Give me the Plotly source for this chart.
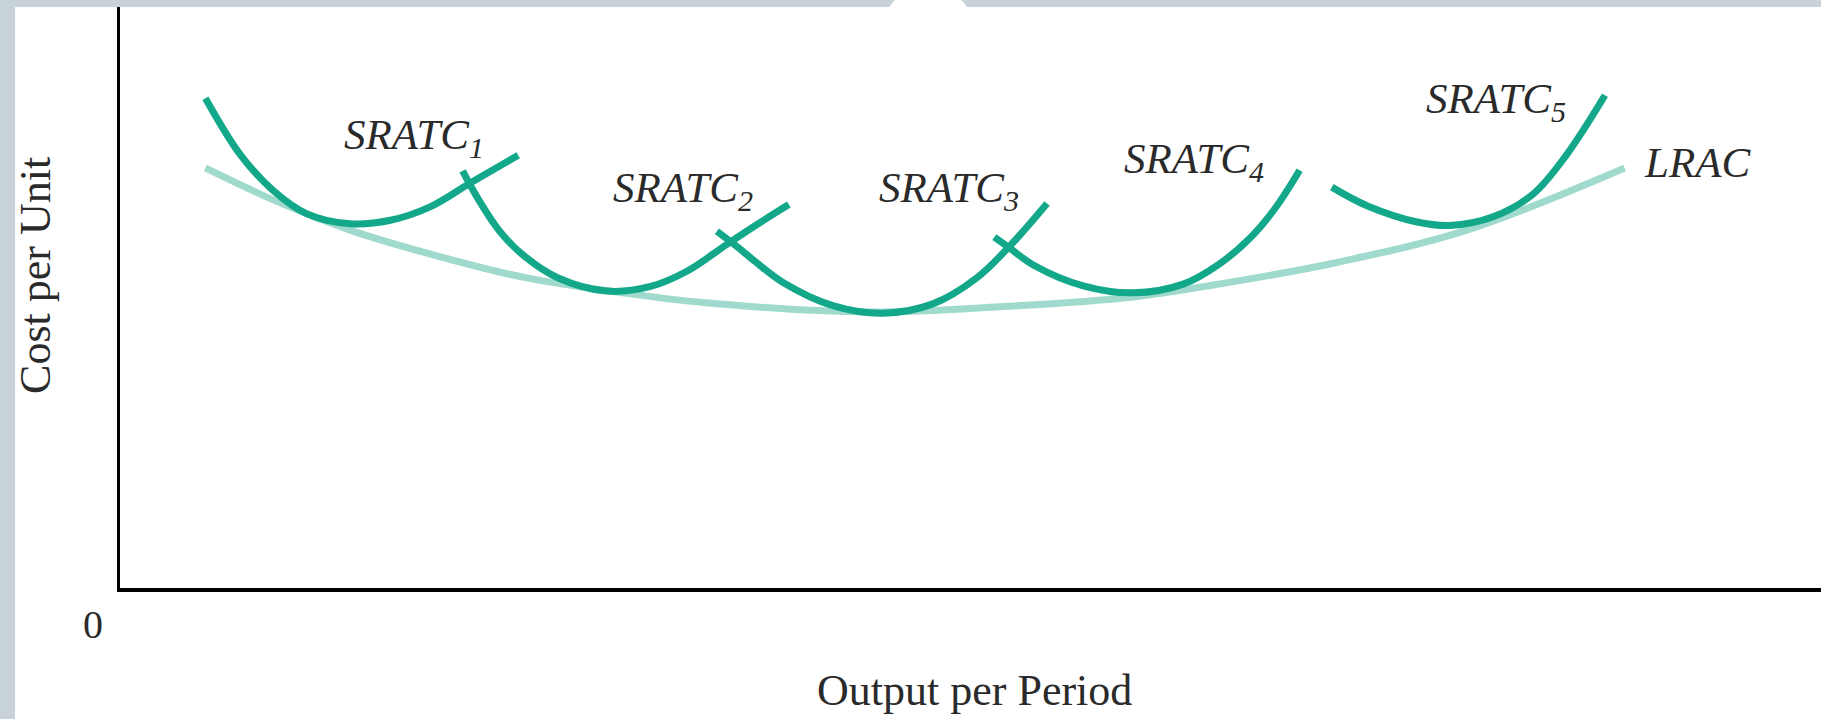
import plotly.graph_objects as go

# curve points (output on x, cost per unit on y, both on a 0-100 scale)
sratc1_x = [5.02, 7.07, 9.01, 10.99, 13.52, 15.90, 18.23, 20.59, 23.41]
sratc1_y = [84.3, 74.6, 68.4, 64.4, 62.7, 63.3, 65.6, 69.7, 74.5]

sratc2_x = [20.14, 21.09, 22.32, 23.82, 25.73, 28.60, 31.19, 33.38, 35.70, 37.68, 39.32]
sratc2_y = [71.8, 66.8, 61.4, 57.0, 53.4, 51.1, 51.9, 54.6, 59.2, 63.0, 66.0]

sratc3_x = [35.09, 36.25, 37.34, 38.98, 41.91, 44.85, 47.78, 50.38, 52.29, 54.50]
sratc3_y = [61.4, 58.8, 56.2, 52.6, 48.6, 47.3, 48.9, 53.4, 58.8, 66.2]

sratc4_x = [51.40, 52.35, 53.69, 56.63, 59.56, 62.50, 64.64, 66.42, 67.92, 69.35]
sratc4_y = [60.4, 58.4, 55.6, 52.0, 50.8, 52.3, 55.8, 60.2, 65.4, 71.9]

sratc5_x = [71.24, 73.31, 76.25, 78.19, 80.72, 83.07, 85.05, 87.30]
sratc5_y = [69.0, 65.8, 63.0, 62.4, 63.9, 67.8, 74.6, 84.8]

lrac_x = [5.02, 9.01, 13.52, 18.84, 23.69, 29.56, 34.40, 43.92, 51.74, 59.56, 63.96, 71.33, 79.18, 88.46]
lrac_y = [72.3, 66.8, 61.6, 57.0, 53.5, 50.8, 49.1, 47.5, 48.4, 50.1, 52.0, 55.9, 61.6, 72.3]

labels = ["SRATC<sub>1</sub>", "SRATC<sub>2</sub>", "SRATC<sub>3</sub>", "SRATC<sub>4</sub>", "SRATC<sub>5</sub>"]
label_x = [17.30, 33.11, 48.74, 63.11, 80.89]
label_y = [77.4, 68.4, 68.4, 73.4, 83.6]

TEAL = "#14a88b"
LIGHT = "#a0dacd"
GRAY = "#c7d2d9"
INK = "#2a2a2a"
serif = "Liberation Serif"

fig = go.Figure()
fig.add_trace(go.Scatter(x=lrac_x, y=lrac_y, mode="lines", line=dict(color=LIGHT, width=7, shape="spline"),
                         name="LRAC", hoverinfo="skip"))
for i, (xs, ys) in enumerate([(sratc1_x, sratc1_y), (sratc2_x, sratc2_y), (sratc3_x, sratc3_y),
                              (sratc4_x, sratc4_y), (sratc5_x, sratc5_y)]):
    fig.add_trace(go.Scatter(x=xs, y=ys, mode="lines", line=dict(color=TEAL, width=7, shape="spline"),
                             name="SRATC%d" % (i + 1), hoverinfo="skip"))

for t, x, y in zip(labels, label_x, label_y):
    fig.add_annotation(x=x, y=y, text=t, showarrow=False, xanchor="center", yanchor="middle",
                       font=dict(family=serif, size=43, color=INK, style="italic"))
fig.add_annotation(x=89.49, y=73.2, text="LRAC", showarrow=False, xanchor="left", yanchor="middle",
                   font=dict(family=serif, size=43, color=INK, style="italic"))

# axis texts
fig.add_annotation(xref="paper", yref="paper", x=-0.05, y=0.5387, text="Cost per Unit", textangle=-90,
                   xanchor="center", yanchor="middle", showarrow=False,
                   font=dict(family=serif, size=44, color=INK))
fig.add_annotation(xref="paper", yref="paper", x=0.5026, y=-0.177, text="Output per Period",
                   xanchor="center", yanchor="middle", showarrow=False,
                   font=dict(family=serif, size=44, color=INK))
fig.add_annotation(xref="paper", yref="paper", x=-0.016, y=-0.063, text="0",
                   xanchor="center", yanchor="middle", showarrow=False,
                   font=dict(family=serif, size=40, color=INK))

# white card on the gray page, plus the little round notch at the top
fig.add_shape(type="rect", xref="paper", yref="paper", x0=-0.0617, x1=1.01, y0=-0.24, y1=1.0,
              fillcolor="white", line_width=0, layer="below")
fig.add_shape(type="circle", xref="paper", yref="paper", x0=0.4486, x1=0.5015, y0=0.883, y1=1.0379,
              fillcolor="white", line_width=0, layer="below")

fig.update_xaxes(range=[0, 100], showline=True, linecolor="black", linewidth=4, showgrid=False,
                 zeroline=False, showticklabels=False, ticks="")
fig.update_yaxes(range=[0, 100], showline=True, linecolor="black", linewidth=3, showgrid=False,
                 zeroline=False, showticklabels=False, ticks="")
fig.update_layout(width=1821, height=719, margin=dict(l=120, r=0, t=7, b=131),
                  paper_bgcolor=GRAY, plot_bgcolor="rgba(0,0,0,0)", showlegend=False)

fig.write_html("out.html", config={"displayModeBar": False},
               post_script="document.body.style.margin='0px';")
